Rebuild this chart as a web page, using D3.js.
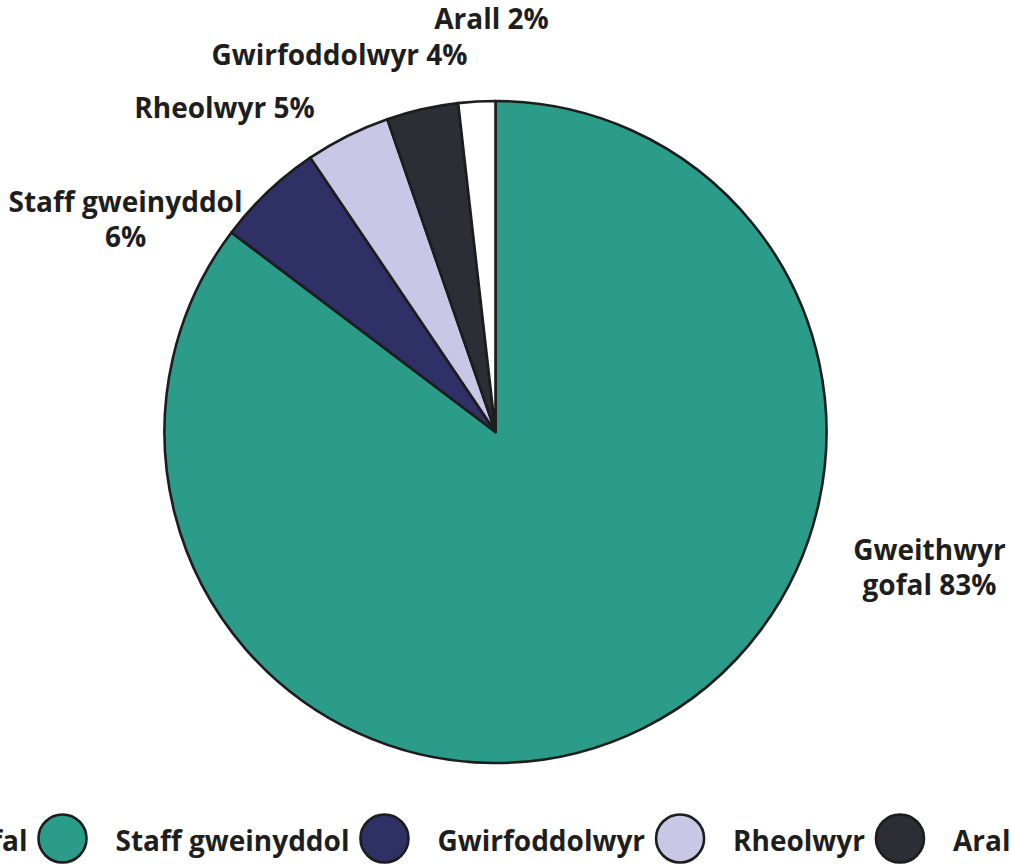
<!DOCTYPE html>
<meta charset="utf-8">
<style>
    body { margin: 0; background: #fff; }
    .lbl, .legend text {
        font-family: "Open Sans", sans-serif;
        font-weight: 700;
        font-size: 28px;
        fill: #1e1e1e;
    }
</style>

<svg width="1011" height="865"></svg>
<script src="https://d3js.org/d3.v7.min.js"></script>
<script>
    // slice shares as drawn (degrees of the circle, converted to %), and the printed labels
    var categories = ["Gweithwyr gofal", "Staff gweinyddol", "Rheolwyr", "Gwirfoddolwyr", "Arall"];
    var shares = [85.3, 5.25, 4.15, 3.5, 1.8];
    var labelLines = [["Gweithwyr", "gofal 83%"], ["Staff gweinyddol", "6%"], ["Rheolwyr 5%"], ["Gwirfoddolwyr 4%"], ["Arall 2%"]];
    var colors = ["#2c9c8a", "#2e3066", "#c8c7e6", "#2c2d35", "#ffffff"];

    // legend order differs from the pie
    var legendItems = ["Gweithwyr gofal", "Staff gweinyddol", "Gwirfoddolwyr", "Rheolwyr", "Arall"];
    var legendColors = ["#2c9c8a", "#2e3066", "#c8c7e6", "#2c2d35", "#ffffff"];

    var svg = d3.select("svg"),
        cx = 495.5, cy = 432, radius = 331;

    var pie = d3.pie().sort(null).value(function (d) { return d; });
    var arc = d3.arc().innerRadius(0).outerRadius(radius);

    var g = svg.append("g").attr("transform", "translate(" + cx + "," + cy + ")");

    g.selectAll("path")
        .data(pie(shares))
        .enter().append("path")
        .attr("d", arc)
        .attr("fill", function (d, i) { return colors[i]; })
        .attr("stroke", "#1d1d1d")
        .attr("stroke-width", 2.6)
        .attr("stroke-linejoin", "round");

    // label anchors placed by hand (relative to pie centre)
    var labelOffsets = [[434, 128], [-370, -220], [-271, -314], [-156, -367], [-4, -403]];
    var lineH = 35;

    labelLines.forEach(function (lines, i) {
        var t = g.append("text")
            .attr("class", "lbl")
            .attr("text-anchor", "middle")
            .attr("transform", "translate(" + labelOffsets[i][0] + "," + labelOffsets[i][1] + ")");
        lines.forEach(function (s, j) {
            t.append("tspan").attr("x", 0).attr("y", j * lineH).text(s);
        });
    });

    // legend: text then circle, running off both edges
    var legend = svg.append("g").attr("class", "legend");
    var r = 24, gap = 11, itemGap = 29, ly = 838.5;
    var x = 62.5 - r - gap; // end of first text
    legendItems.forEach(function (name, i) {
        var t = legend.append("text")
            .attr("y", ly + 12)
            .text(name);
        var w = t.node().getComputedTextLength();
        if (i === 0) {
            t.attr("x", x - w);
        } else {
            t.attr("x", x);
            x = x + w;
        }
        legend.append("circle")
            .attr("cx", x + gap + r)
            .attr("cy", ly)
            .attr("r", r)
            .attr("fill", legendColors[i])
            .attr("stroke", "#1d1d1d")
            .attr("stroke-width", 2.6);
        x = x + gap + 2 * r + itemGap;
    });
</script>
